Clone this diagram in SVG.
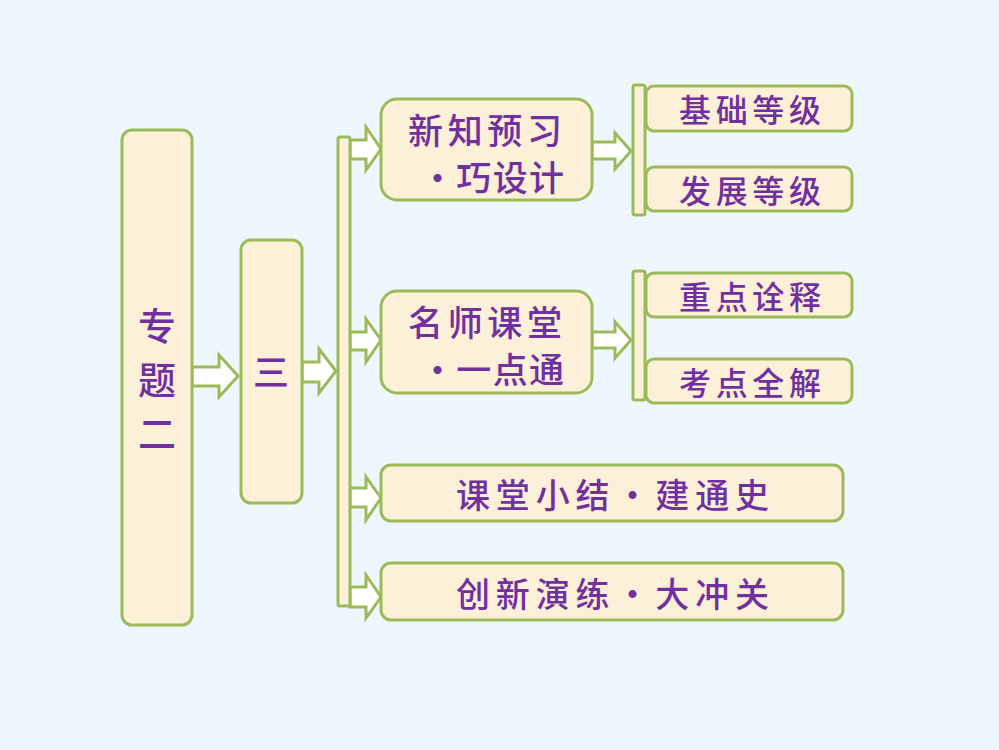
<svg xmlns="http://www.w3.org/2000/svg" width="999" height="750" viewBox="0 0 999 750">
<defs>
<style>
.box{fill:#FDF0D8;stroke:#9BBB59;stroke-width:3}
.bar{fill:#FDF0D8;stroke:#9BBB59;stroke-width:3}
.arr{fill:#FFFFFF;stroke:#9BBB59;stroke-width:3;stroke-linejoin:miter}
.t{fill:#7030A0;font-family:"Noto Sans CJK SC","Noto Sans CJK JP",sans-serif;font-weight:500;dominant-baseline:central}
</style>
</defs>
<rect x="0" y="0" width="999" height="750" fill="#EEF6FE"/>
<g id="connectors">
<polygon class="arr" points="192,367 219,367 219,355 238,376 219,397 219,386 192,386"/>
<polygon class="arr" points="302,362 319,362 319,349 336,371 319,393 319,382 302,382"/>
<polygon class="arr" points="350,140 366,140 366,127 381,149 366,170 366,159 350,159"/>
<polygon class="arr" points="350,332 366,332 366,319 381,340 366,362 366,350 350,350"/>
<polygon class="arr" points="350,488 366,488 366,477 381,498 366,520 366,507 350,507"/>
<polygon class="arr" points="350,587 366,587 366,575 381,597 366,618 366,607 350,607"/>
<polygon class="arr" points="592,142 615,142 615,133 631,151 615,169 615,159 592,159"/>
<polygon class="arr" points="592,332 615,332 615,322 631,340 615,358 615,348 592,348"/>
</g>
<g id="bar-main"><rect class="bar" x="338" y="137" width="12" height="469" rx="2"/></g>
<g id="bar-1"><rect class="bar" x="633" y="85" width="12" height="130" rx="2"/></g>
<g id="bar-2"><rect class="bar" x="633" y="271" width="12" height="129" rx="2"/></g>
<g id="n-zhuanti">
<rect class="box" x="122" y="130" width="70" height="495" rx="10"/>
<text class="t" x="157" y="323" font-size="38" text-anchor="middle">专</text>
<text class="t" x="157" y="377" font-size="38" text-anchor="middle">题</text>
<text class="t" x="157" y="431" font-size="38" text-anchor="middle">二</text>
</g>
<g id="n-san">
<rect class="box" x="241" y="240" width="61" height="263" rx="10"/>
<text class="t" x="271" y="370" font-size="36" text-anchor="middle">三</text>
</g>
<g id="n-xinzhi">
<rect class="box" x="381" y="99" width="211" height="101" rx="16"/>
<text class="t" x="408" y="128" font-size="35" textLength="154" lengthAdjust="spacing">新知预习</text>
<text class="t" x="420" y="175" font-size="35" textLength="144" lengthAdjust="spacing">·巧设计</text>
</g>
<g id="n-mingshi">
<rect class="box" x="381" y="291" width="211" height="102" rx="16"/>
<text class="t" x="408" y="320" font-size="35" textLength="154" lengthAdjust="spacing">名师课堂</text>
<text class="t" x="420" y="367" font-size="35" textLength="144" lengthAdjust="spacing">·一点通</text>
</g>
<g id="n-jichu">
<rect class="box" x="646" y="86" width="206" height="45" rx="8"/>
<text class="t" x="679" y="108" font-size="32" textLength="142" lengthAdjust="spacing">基础等级</text>
</g>
<g id="n-fazhan">
<rect class="box" x="646" y="167" width="206" height="44" rx="8"/>
<text class="t" x="679" y="189" font-size="32" textLength="142" lengthAdjust="spacing">发展等级</text>
</g>
<g id="n-zhongdian">
<rect class="box" x="646" y="273" width="206" height="44" rx="8"/>
<text class="t" x="679" y="295" font-size="32" textLength="142" lengthAdjust="spacing">重点诠释</text>
</g>
<g id="n-kaodian">
<rect class="box" x="646" y="359" width="206" height="44" rx="8"/>
<text class="t" x="679" y="381" font-size="32" textLength="142" lengthAdjust="spacing">考点全解</text>
</g>
<g id="n-ketang">
<rect class="box" x="381" y="465" width="462" height="56" rx="10"/>
<text class="t" x="456" y="493" font-size="34" textLength="313" lengthAdjust="spacing">课堂小结·建通史</text>
</g>
<g id="n-chuangxin">
<rect class="box" x="381" y="563" width="462" height="57" rx="10"/>
<text class="t" x="456" y="592" font-size="34" textLength="313" lengthAdjust="spacing">创新演练·大冲关</text>
</g>
</svg>
